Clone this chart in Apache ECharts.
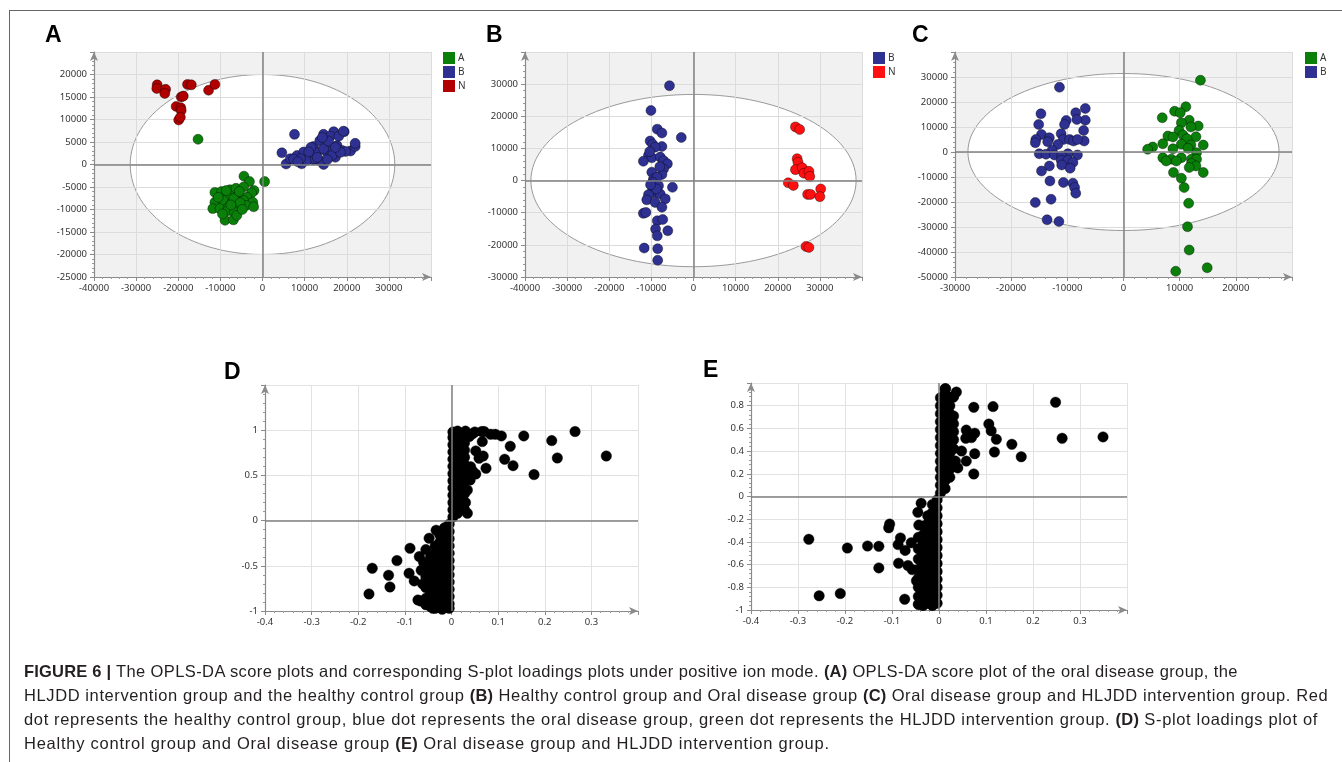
<!DOCTYPE html>
<html>
<head>
<meta charset="utf-8">
<script src="https://cdn.jsdelivr.net/npm/echarts@6/dist/echarts.min.js"></script>
<style>
  html, body { margin: 0; padding: 0; background: #fff; }
  #chart { position: absolute; left: 0; top: 0; width: 1342px; height: 762px; }
  #frame { position: absolute; left: 9px; top: 10px; right: 0; bottom: -2px; border-top: 1px solid #666; border-left: 1px solid #666; pointer-events: none; }
  #caption { position: absolute; left: 24px; top: 659px; font: 16.5px "Liberation Sans", Arial, sans-serif; line-height: 24px; color: #231f20; white-space: nowrap; }
  #caption div { height: 24px; }
  #caption b { font-weight: bold; letter-spacing: 0.2px; }
</style>
</head>
<body>
<div id="frame"></div>
<div id="chart"></div>
<div id="caption">
<div style="letter-spacing:0.4px"><b>FIGURE 6 |</b> The OPLS-DA score plots and corresponding S-plot loadings plots under positive ion mode. <b>(A)</b> OPLS-DA score plot of the oral disease group, the</div>
<div style="letter-spacing:0.6px">HLJDD intervention group and the healthy control group <b>(B)</b> Healthy control group and Oral disease group <b>(C)</b> Oral disease group and HLJDD intervention group. Red</div>
<div style="letter-spacing:0.65px">dot represents the healthy control group, blue dot represents the oral disease group, green dot represents the HLJDD intervention group. <b>(D)</b> S-plot loadings plot of</div>
<div style="letter-spacing:0.75px">Healthy control group and Oral disease group <b>(E)</b> Oral disease group and HLJDD intervention group.</div>
</div>
<script>
// ---- data ----
// A: score plot, three groups
var aGroupA = [[-15300,5600],[500,-3800],[-4400,-2600],[-3100,-3800],[-11300,-6200],[-9700,-6000],[-7700,-5600],[-6300,-5300],[-4500,-5000],[-2000,-5800],[-2600,-6300],[-8500,-6900],[-5700,-6900],[-3700,-7300],[-11300,-8400],[-9300,-8000],[-7300,-8600],[-4500,-8000],[-2300,-8400],[-11800,-9800],[-10100,-9800],[-8100,-9500],[-6100,-9500],[-3900,-9100],[-2100,-9400],[-8300,-10300],[-6700,-10600],[-8900,-12400],[-6900,-12300],[-6100,-11300],[-10500,-7300],[-6800,-7600],[-5300,-8500],[-7500,-9000],[-9500,-11000],[-4800,-10000],[-5500,-6000],[-8600,-5800]];
var aGroupB = [[4600,2600],[5600,100],[7600,6700],[6600,1300],[8200,2000],[9300,150],[9800,2800],[11300,2000],[12100,4000],[13600,5300],[14500,6700],[16900,7300],[19400,7300],[14500,0],[15300,2700],[17300,1600],[20900,3000],[22000,4000],[22000,4700],[17700,4200],[16100,6300],[18900,3100],[12100,1000],[10500,900],[12900,2700],[16100,3800],[9000,1300],[13700,800],[16500,2000],[19700,2900],[14500,3500],[15700,5200],[18100,6300],[18500,2700],[12500,1300],[7400,1200],[11500,3800],[17300,3800],[14200,6000],[11000,2800],[8400,600],[19200,7400],[13000,1600],[15400,1100]];
var aGroupN = [[-25000,17700],[-25100,16900],[-23000,16700],[-23200,15800],[-17800,17800],[-16900,17700],[-12800,16500],[-11300,17800],[-19300,15000],[-18800,15200],[-20500,12900],[-19400,12600],[-19300,12000],[-19900,9900],[-19500,10500]];
// B: score plot, B vs N
var bGroupB = [[-5700,29500],[-10100,21800],[-8600,16000],[-7500,14800],[-2900,13400],[-10300,12300],[-9700,11300],[-7500,10600],[-9100,10400],[-10700,7800],[-9900,7100],[-7900,7300],[-7100,6200],[-11900,6000],[-6200,5200],[-9900,2600],[-7100,3600],[-7500,1900],[-9500,500],[-8700,1000],[-9700,-500],[-8300,-1600],[-5000,-2100],[-9900,-3700],[-9100,-3700],[-10700,-4400],[-7900,-4200],[-11100,-6000],[-9100,-6800],[-6700,-5700],[-7500,-8300],[-11900,-10200],[-11300,-9900],[-8600,-12500],[-7300,-12100],[-9000,-15100],[-6100,-15600],[-8600,-17200],[-11700,-21000],[-8500,-21200],[-8500,-24800],[-8800,-2600],[-10200,-1300],[-8000,4300],[-10400,9000]];
var bGroupN = [[24200,16700],[25200,15900],[24600,6800],[24800,5700],[24200,3400],[25800,4000],[26200,2300],[27400,2900],[27600,1300],[22500,-700],[23700,-1500],[27100,-4300],[27800,-4300],[30200,-2600],[30000,-5000],[26700,-20500],[27400,-20800]];
// C: score plot, A vs B
var cGroupA = [[13700,28700],[11100,18100],[9100,16300],[10100,15700],[6900,13700],[11700,12700],[13300,10400],[10300,11700],[12000,10000],[9900,8600],[7900,6400],[10600,6800],[12900,6100],[8800,6000],[11300,5300],[7000,3300],[10300,3100],[12000,2800],[14200,2800],[5200,2000],[4300,1100],[8800,1300],[13000,-300],[11500,1500],[7000,-2300],[8500,-2900],[7600,-3600],[10300,-2300],[12100,-2900],[13000,-2900],[9400,-3600],[12100,-4600],[12900,-5600],[11700,-6200],[8900,-8200],[14200,-8200],[10300,-10500],[10800,-14200],[11600,-20500],[11400,-29900],[11700,-39200],[9300,-47700],[14900,-46300]];
var cGroupB = [[-11400,25900],[-14700,15300],[-15100,11000],[-6800,17400],[-8500,15700],[-6800,12700],[-8300,13000],[-10200,12600],[-10500,11000],[-7100,8600],[-11100,7300],[-14600,7000],[-7000,4400],[-15600,5000],[-15700,3700],[-13200,5700],[-13500,4100],[-10700,5000],[-9600,5000],[-8900,4400],[-8200,5000],[-11700,3000],[-12700,700],[-15000,-700],[-13800,-900],[-12300,-1200],[-9900,-700],[-8200,-1200],[-11000,-1600],[-11100,-3300],[-9900,-3300],[-9000,-4200],[-13200,-5600],[-11000,-5200],[-9500,-6500],[-14600,-7600],[-13100,-11600],[-10700,-12200],[-9000,-12500],[-8700,-14200],[-8500,-16500],[-12900,-18900],[-15700,-20200],[-13600,-27100],[-11500,-27800]];
// Hotelling ellipse half-axes [x, y] per score plot
var ellipseA = [31400, 20000];
var ellipseB = [38600, 26800];
var ellipseC = [27700, 31400];
// D: S-plot loadings
var dLoadings = [
  [0.332,0.715],[0.265,0.985],[0.215,0.885],[0.227,0.693],[0.177,0.509],[0.155,0.937],[0.126,0.822],[0.114,0.678],[0.132,0.608],[0.107,0.937],[0.094,0.955],[0.084,0.955],[0.065,0.985],[0.07,0.985],[0.066,0.874],[0.068,0.715],[0.059,0.69],[0.074,0.579],[0.052,0.771],[0.052,0.516],[0.041,0.597],[0.034,0.339],[0.034,0.081],[0.023,0.21],[0.03,0.99],[0.013,0.99],[0.045,0.96],[0.05,0.98],[0.038,0.93],[0.04,0.45],[0.045,0.55],[0.03,0.2],[0.028,0.12],
  [0.003,0.04],[0.003,0.12],[0.003,0.20],[0.003,0.28],[0.003,0.36],[0.003,0.44],[0.003,0.52],[0.003,0.60],[0.003,0.68],[0.003,0.76],[0.003,0.84],[0.003,0.92],[0.003,0.98],
  [0.013,0.08],[0.013,0.16],[0.013,0.24],[0.013,0.32],[0.013,0.40],[0.013,0.48],[0.013,0.56],[0.013,0.64],[0.013,0.72],[0.013,0.80],[0.013,0.88],[0.013,0.96],
  [0.022,0.14],[0.022,0.24],[0.022,0.32],[0.022,0.40],[0.022,0.48],[0.022,0.56],[0.022,0.64],[0.022,0.72],[0.022,0.80],[0.022,0.88],[0.022,0.96],
  [0.028,0.30],[0.028,0.44],[0.028,0.52],[0.028,0.62],[0.028,0.70],[0.028,0.78],[0.028,0.86],[0.028,0.94],
  [-0.177,-0.811],[-0.170,-0.527],[-0.135,-0.605],[-0.132,-0.734],[-0.117,-0.442],[-0.089,-0.306],[-0.091,-0.583],[-0.080,-0.667],[-0.048,-0.195],[-0.055,-0.321],[-0.033,-0.107],[-0.069,-0.398],[-0.072,-0.878],[-0.066,-0.89],[-0.06,-0.46],[-0.065,-0.55],[-0.062,-0.7],[-0.04,-0.97],[-0.02,-0.98],
  [-0.005,-0.04],[-0.005,-0.12],[-0.005,-0.20],[-0.005,-0.28],[-0.005,-0.36],[-0.005,-0.44],[-0.005,-0.52],[-0.005,-0.60],[-0.005,-0.68],[-0.005,-0.76],[-0.005,-0.84],[-0.005,-0.92],[-0.005,-0.97],
  [-0.015,-0.08],[-0.015,-0.16],[-0.015,-0.24],[-0.015,-0.32],[-0.015,-0.40],[-0.015,-0.48],[-0.015,-0.56],[-0.015,-0.64],[-0.015,-0.72],[-0.015,-0.80],[-0.015,-0.88],[-0.015,-0.96],
  [-0.025,-0.16],[-0.025,-0.24],[-0.025,-0.32],[-0.025,-0.40],[-0.025,-0.48],[-0.025,-0.56],[-0.025,-0.64],[-0.025,-0.72],[-0.025,-0.80],[-0.025,-0.88],[-0.025,-0.96],
  [-0.035,-0.28],[-0.035,-0.36],[-0.035,-0.44],[-0.035,-0.52],[-0.035,-0.60],[-0.035,-0.68],[-0.035,-0.76],[-0.035,-0.84],[-0.035,-0.92],[-0.035,-0.97],
  [-0.045,-0.40],[-0.045,-0.48],[-0.045,-0.56],[-0.045,-0.64],[-0.045,-0.72],[-0.045,-0.80],[-0.045,-0.88],[-0.045,-0.95],
  [-0.055,-0.50],[-0.055,-0.62],[-0.055,-0.74],[-0.055,-0.86],[-0.055,-0.93]
];
// E: S-plot loadings
var eLoadings = [
  [0.349,0.525],[0.262,0.513],[0.248,0.831],[0.175,0.350],[0.155,0.460],[0.122,0.504],[0.118,0.392],[0.115,0.792],[0.111,0.579],[0.106,0.638],[0.074,0.786],[0.076,0.558],[0.076,0.377],[0.074,0.199],[0.058,0.585],[0.057,0.513],[0.069,0.519],[0.058,0.312],[0.048,0.401],[0.040,0.252],[0.035,0.312],[0.037,0.920],[0.014,0.95],[0.030,0.875],
  [0.003,0.03],[0.003,0.10],[0.003,0.17],[0.003,0.24],[0.003,0.31],[0.003,0.38],[0.003,0.45],[0.003,0.52],[0.003,0.59],[0.003,0.66],[0.003,0.73],[0.003,0.80],[0.003,0.87],
  [0.013,0.07],[0.013,0.14],[0.013,0.21],[0.013,0.28],[0.013,0.35],[0.013,0.42],[0.013,0.49],[0.013,0.56],[0.013,0.63],[0.013,0.70],[0.013,0.77],[0.013,0.84],[0.013,0.91],[0.013,0.95],
  [0.023,0.17],[0.023,0.24],[0.023,0.31],[0.023,0.38],[0.023,0.45],[0.023,0.52],[0.023,0.59],[0.023,0.66],[0.023,0.73],[0.023,0.80],[0.023,0.87],
  [0.031,0.28],[0.031,0.42],[0.031,0.50],[0.031,0.57],[0.031,0.64],[0.031,0.71],[0.031,0.88],
  [-0.277,-0.377],[-0.255,-0.875],[-0.210,-0.855],[-0.195,-0.454],[-0.152,-0.436],[-0.128,-0.439],[-0.128,-0.629],[-0.105,-0.243],[-0.107,-0.276],[-0.082,-0.365],[-0.087,-0.424],[-0.086,-0.588],[-0.073,-0.905],[-0.072,-0.475],[-0.066,-0.608],[-0.057,-0.644],[-0.048,-0.742],[-0.043,-0.95],[-0.038,-0.059],[-0.045,-0.139],[-0.043,-0.252],[-0.059,-0.407],
  [-0.004,-0.03],[-0.004,-0.10],[-0.004,-0.17],[-0.004,-0.24],[-0.004,-0.31],[-0.004,-0.38],[-0.004,-0.45],[-0.004,-0.52],[-0.004,-0.59],[-0.004,-0.66],[-0.004,-0.73],[-0.004,-0.80],[-0.004,-0.87],[-0.004,-0.94],
  [-0.014,-0.07],[-0.014,-0.14],[-0.014,-0.21],[-0.014,-0.28],[-0.014,-0.35],[-0.014,-0.42],[-0.014,-0.49],[-0.014,-0.56],[-0.014,-0.63],[-0.014,-0.70],[-0.014,-0.77],[-0.014,-0.84],[-0.014,-0.91],[-0.014,-0.96],
  [-0.024,-0.17],[-0.024,-0.24],[-0.024,-0.31],[-0.024,-0.38],[-0.024,-0.45],[-0.024,-0.52],[-0.024,-0.59],[-0.024,-0.66],[-0.024,-0.73],[-0.024,-0.80],[-0.024,-0.87],[-0.024,-0.94],
  [-0.034,-0.26],[-0.034,-0.34],[-0.034,-0.42],[-0.034,-0.50],[-0.034,-0.58],[-0.034,-0.66],[-0.034,-0.74],[-0.034,-0.82],[-0.034,-0.90],[-0.034,-0.96],
  [-0.044,-0.36],[-0.044,-0.46],[-0.044,-0.55],[-0.044,-0.64],[-0.044,-0.72],[-0.044,-0.80],[-0.044,-0.88],[-0.044,-0.95]
];

// axis ranges [min, max, interval] per panel
var xRanges = [[-40000, 40000, 10000], [-40000, 40000, 10000], [-30000, 30000, 10000], [-0.4, 0.4, 0.1], [-0.4, 0.4, 0.1]];
var yRanges = [[-25000, 25000, 5000], [-30000, 40000, 10000], [-50000, 40000, 10000], [-1, 1.5, 0.5], [-1, 1, 0.2]];

var GREEN = '#0a800a', BLUE = '#2e3192', DARKRED = '#b00000', RED = '#ff1010';
var FONT = '"Noto Sans", "Open Sans", sans-serif';

var grids = [
  { left: 94, top: 52, width: 337, height: 225 },
  { left: 525, top: 52, width: 337, height: 225 },
  { left: 955, top: 52, width: 337, height: 225 },
  { left: 265, top: 385, width: 373, height: 226 },
  { left: 751, top: 383, width: 376, height: 227 }
];

// plain numbers, no thousands separator
function tickText(v) {
  return String(Math.round(v * 1000) / 1000);
}

function makeAxis(i, r, isX) {
  return {
    type: 'value', gridIndex: i, min: r[0], max: r[1], interval: r[2],
    axisLine: { show: true, onZero: false, symbol: ['none', 'arrow'], symbolSize: [6, 9], lineStyle: { color: '#8a8a8a', width: 1.2 } },
    axisTick: { show: true, length: 4, lineStyle: { color: '#8a8a8a' } },
    minorTick: { show: true, splitNumber: 5, length: 2, lineStyle: { color: '#9a9a9a' } },
    axisLabel: { color: '#333', fontSize: 9.5, fontFamily: FONT, margin: isX ? 6 : 7, showMaxLabel: false, formatter: tickText },
    splitLine: { show: true, lineStyle: { color: i < 3 ? '#dcdcdc' : '#e2e2e2', width: 1 } }
  };
}

// grey plot area and the white ellipse, drawn below the grid lines
function ellipseItem(params, api) {
  var c = api.coord([0, 0]);
  var ex = api.coord([api.value(0), 0]);
  var ey = api.coord([0, api.value(1)]);
  var cs = params.coordSys;
  return {
    type: 'group',
    children: [
      { type: 'rect', shape: { x: cs.x, y: cs.y, width: cs.width, height: cs.height }, style: { fill: '#f1f1f1' } },
      { type: 'ellipse', shape: { cx: c[0], cy: c[1], rx: ex[0] - c[0], ry: c[1] - ey[1] }, style: { fill: '#fff', stroke: '#9a9a9a', lineWidth: 1 } }
    ]
  };
}

var zeroLines = {
  silent: true, symbol: 'none', animation: false,
  label: { show: false },
  lineStyle: { color: '#808080', width: 1.5, type: 'solid' },
  emphasis: { disabled: true },
  data: [{ xAxis: 0 }, { yAxis: 0 }]
};

function ellipseSeries(i, axes) {
  return { type: 'custom', xAxisIndex: i, yAxisIndex: i, z: -1, silent: true, renderItem: ellipseItem, data: [axes] };
}

function dots(name, i, data, color, size, withLines) {
  var s = {
    name: name, type: 'scatter', xAxisIndex: i, yAxisIndex: i, data: data,
    symbolSize: size,
    itemStyle: { color: color, opacity: 1, borderColor: 'rgba(0,0,0,0.55)', borderWidth: 0.7 },
    emphasis: { disabled: true }
  };
  if (withLines) s.markLine = zeroLines;
  return s;
}

function legendAt(left, names) {
  return {
    left: left, top: 47, orient: 'vertical', icon: 'rect',
    itemWidth: 12, itemHeight: 12, itemGap: 2,
    itemStyle: { borderWidth: 0 },
    selectedMode: false,
    data: names,
    formatter: function (n) { return n.split('-')[0]; },
    textStyle: { fontSize: 10, color: '#333', fontFamily: FONT, padding: [0, 0, 0, -2] }
  };
}

function panelLetter(t, x, y) {
  return { type: 'text', left: x, top: y, style: { text: t, font: 'bold 23px "Liberation Sans", Arial, sans-serif', fill: '#000' } };
}

var option = {
  animation: false,
  grid: grids,
  xAxis: xRanges.map(function (r, i) { return makeAxis(i, r, true); }),
  yAxis: yRanges.map(function (r, i) { return makeAxis(i, r, false); }),
  legend: [
    legendAt(438, ['A-a', 'B-a', 'N-a']),
    legendAt(868, ['B-b', 'N-b']),
    legendAt(1300, ['A-c', 'B-c'])
  ],
  graphic: [
    panelLetter('A', 45, 24),
    panelLetter('B', 486, 24),
    panelLetter('C', 912, 24),
    panelLetter('D', 224, 361),
    panelLetter('E', 703, 359)
  ],
  series: [
    ellipseSeries(0, ellipseA),
    ellipseSeries(1, ellipseB),
    ellipseSeries(2, ellipseC),
    dots('A-a', 0, aGroupA, GREEN, 10, true),
    dots('B-a', 0, aGroupB, BLUE, 10, false),
    dots('N-a', 0, aGroupN, DARKRED, 10, false),
    dots('B-b', 1, bGroupB, BLUE, 10, true),
    dots('N-b', 1, bGroupN, RED, 10, false),
    dots('A-c', 2, cGroupA, GREEN, 10, true),
    dots('B-c', 2, cGroupB, BLUE, 10, false),
    dots('D', 3, dLoadings, '#000', 10.5, true),
    dots('E', 4, eLoadings, '#000', 10.5, true)
  ]
};

var myChart = echarts.init(document.getElementById('chart'));
myChart.setOption(option);
</script>
</body>
</html>
